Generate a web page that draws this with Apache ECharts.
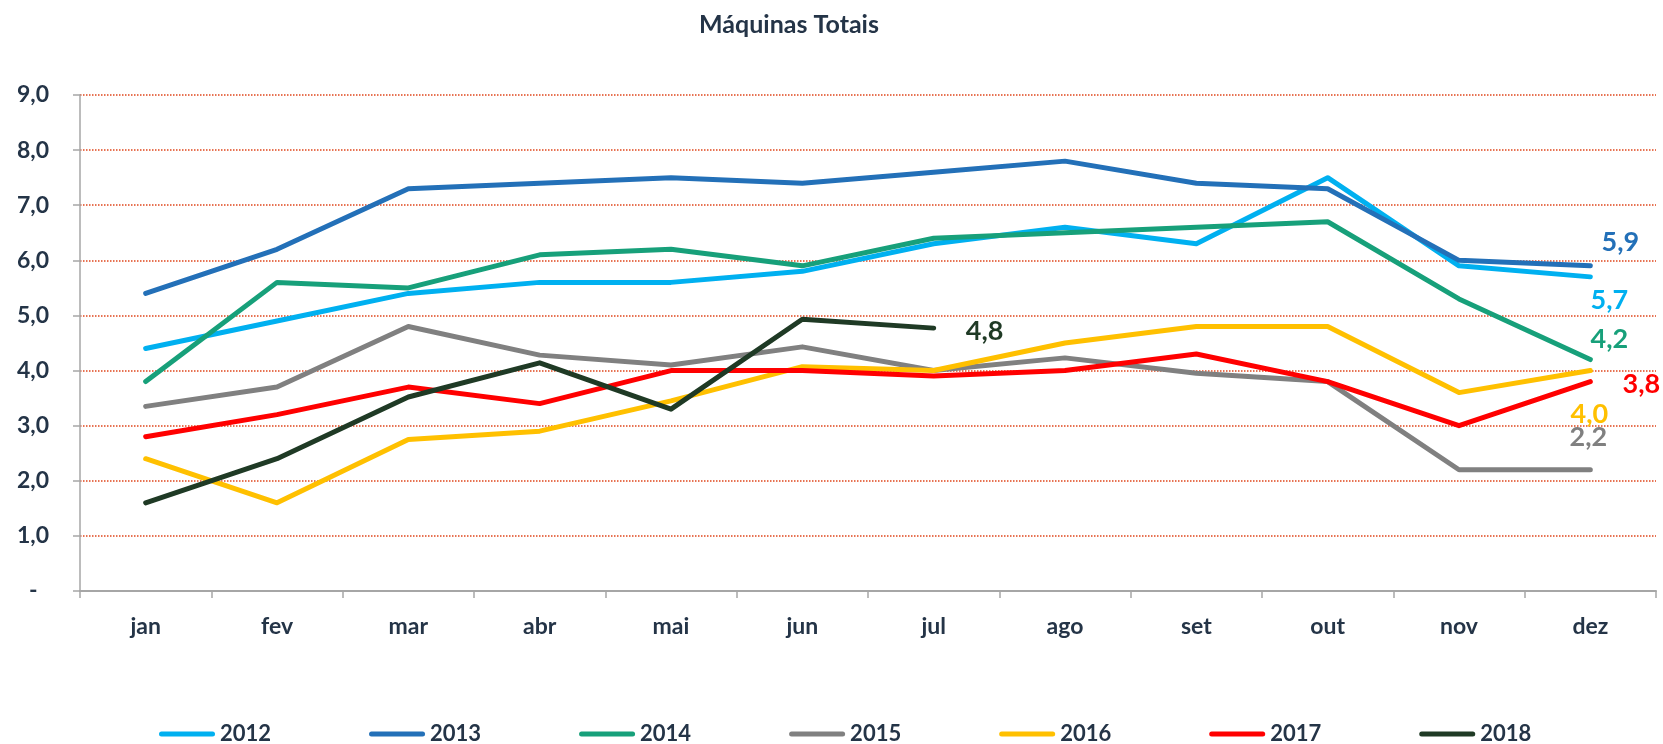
<!DOCTYPE html>
<html>
<head>
<meta charset="utf-8">
<script src="https://cdn.jsdelivr.net/npm/echarts@6/dist/echarts.min.js"></script>
<style>
html,body{margin:0;padding:0;background:#fff;}
#chart{width:1663px;height:744px;}
</style>
</head>
<body>
<div id="chart"></div>
<script>
const categories = ['jan','fev','mar','abr','mai','jun','jul','ago','set','out','nov','dez'];
const yTickLabels = ['-\u2002','1,0','2,0','3,0','4,0','5,0','6,0','7,0','8,0','9,0'];
const seriesNames = ['2012','2013','2014','2015','2016','2017','2018'];
const s2012 = [4.4, 4.9, 5.4, 5.6, 5.6, 5.8, 6.3, 6.6, 6.3, 7.5, 5.9, 5.7];
const s2013 = [5.4, 6.2, 7.3, 7.4, 7.5, 7.4, 7.6, 7.8, 7.4, 7.3, 6.0, 5.9];
const s2014 = [3.8, 5.6, 5.5, 6.1, 6.2, 5.9, 6.4, 6.5, 6.6, 6.7, 5.3, 4.2];
const s2015 = [3.35, 3.7, 4.8, 4.28, 4.1, 4.43, 4.0, 4.23, 3.95, 3.8, 2.2, 2.2];
const s2016 = [2.4, 1.6, 2.75, 2.9, 3.45, 4.07, 4.0, 4.5, 4.8, 4.8, 3.6, 4.0];
const s2017 = [2.8, 3.2, 3.7, 3.4, 4.0, 4.0, 3.9, 4.0, 4.3, 3.8, 3.0, 3.8];
const s2018 = [1.6, 2.4, 3.52, 4.14, 3.3, 4.93, 4.77];
const endLabels = ['5,7','5,9','4,2','2,2','4,0','3,8','4,8'];

const values = [s2012, s2013, s2014, s2015, s2016, s2017, s2018];
const colors = ['#00B0F0','#2370B8','#17A07A','#808080','#FFC000','#FF0000','#1F3A25'];
const labelOffsets = [[19,23],[30,-24],[19,-20],[-2,-32],[-1,44],[51,3],[51,3]];
const textColor = '#243447';
const fontFamily = 'Lato, "Noto Sans", sans-serif';

const series = seriesNames.map((name, i) => {
  const vals = values[i];
  const last = vals.length - 1;
  return {
    name: name,
    type: 'line',
    data: vals,
    symbol: 'none',
    smooth: false,
    z: 2 + i,
    lineStyle: { color: colors[i], width: 5, cap: 'round', join: 'round' },
    itemStyle: { color: colors[i] },
    markPoint: {
      symbol: 'circle',
      symbolSize: 1,
      itemStyle: { color: 'rgba(0,0,0,0)' },
      silent: true,
      animation: false,
      data: [{ coord: [categories[last], vals[last]], value: endLabels[i] }],
      label: {
        show: true,
        position: 'inside',
        offset: labelOffsets[i],
        align: 'center',
        verticalAlign: 'middle',
        formatter: endLabels[i],
        color: colors[i],
        fontFamily: fontFamily,
        fontWeight: 'bold',
        fontSize: 27
      }
    }
  };
});

const chart = echarts.init(document.getElementById('chart'), null, { renderer: 'canvas' });
chart.setOption({
  animation: false,
  backgroundColor: '#ffffff',
  title: {
    text: 'Máquinas Totais',
    left: 784,
    top: 7,
    textAlign: 'center',
    textStyle: { color: textColor, fontFamily: fontFamily, fontWeight: 'bold', fontSize: 25 }
  },
  legend: {
    data: seriesNames,
    left: 159,
    top: 723,
    padding: 0,
    itemWidth: 56,
    itemHeight: 5,
    itemGap: 98,
    icon: 'path://M2.5,0 H53.5 A2.5,2.5 0 0 1 53.5,5 H2.5 A2.5,2.5 0 0 1 2.5,0 Z',
    textStyle: { color: textColor, fontFamily: fontFamily, fontWeight: 'bold', fontSize: 22, width: 52 }
  },
  grid: { left: 80, right: 7, top: 95, bottom: 153, containLabel: false },
  xAxis: {
    type: 'category',
    data: categories,
    boundaryGap: true,
    axisLine: { show: true, lineStyle: { color: '#A6A6A6', width: 2 } },
    axisTick: { show: true, length: 7, interval: 0, lineStyle: { color: '#A6A6A6', width: 1.5 } },
    axisLabel: { color: textColor, fontFamily: fontFamily, fontWeight: 'bold', fontSize: 23, margin: 24, interval: 0 },
    splitLine: { show: false }
  },
  yAxis: {
    type: 'value',
    min: 0,
    max: 9,
    interval: 1,
    axisLine: { show: true, lineStyle: { color: '#A6A6A6', width: 1.5 } },
    axisTick: { show: true, length: 7, lineStyle: { color: '#A6A6A6', width: 1.5 } },
    axisLabel: {
      color: textColor, fontFamily: fontFamily, fontWeight: 'bold', fontSize: 23, margin: 31,
      formatter: v => yTickLabels[Math.round(v)]
    },
    splitLine: { show: true, lineStyle: { color: '#E0461B', width: 1.5, type: [1.5, 1.5] } }
  },
  series: series
});
</script>
</body>
</html>
